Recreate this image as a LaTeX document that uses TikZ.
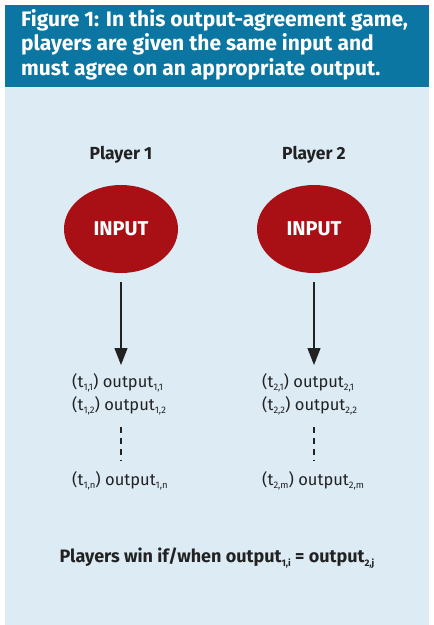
\documentclass[tikz,border=0pt]{standalone}
\usepackage{fontspec}
\setmainfont{Fira Sans}
\usetikzlibrary{positioning, arrows.meta, shapes.geometric}
\definecolor{headblue}{HTML}{0A76A1}
\definecolor{panelblue}{HTML}{DCEBF4}
\definecolor{inred}{HTML}{A81016}
\definecolor{txtdark}{HTML}{222222}
\tikzset{
every picture/.style={x=1pt, y=-1pt},
player/.style={font=\fontsize{17.5}{19}\selectfont\bfseries, text=txtdark},
input/.style={draw=none, fill=inred, ellipse, minimum width=114pt, minimum height=88pt, text=white, font=\fontsize{20}{22}\selectfont\bfseries},
outline/.style={font=\fontsize{16.5}{18}\selectfont, text=txtdark, anchor=west, inner sep=0pt},
flow/.style={-{Triangle[length=17pt, width=13pt]}, line width=1.3pt, draw=txtdark},
gap/.style={dash pattern=on 6pt off 5pt, line width=1.3pt, draw=txtdark},
}
\newcommand{\lowidx}[1]{\raisebox{-0.4ex}{\fontsize{9.5}{10}\selectfont #1}}

\begin{document}
\begin{tikzpicture}
            \useasboundingbox (0,0) rectangle (434,625);
            \fill[panelblue] (5,87) rectangle (429,625);
            \fill[headblue] (5,5) rectangle (429,87);
            \node[anchor=north west, inner sep=0pt, text=white, align=left, font=\fontsize{21}{24.5}\selectfont\bfseries] (title) at (21,9) {Figure 1: In this output-agreement game,\\players are given the same input and\\must agree on an appropriate output.};
            \node[player] (p1) at (121,155) {Player 1};
            \node[player] (p2) at (314,155) {Player 2};
            \node[input] (in1) at (121,229) {INPUT};
            \node[input] (in2) at (314,229) {INPUT};
            \node[outline] (o11) at (72,383) {(t\lowidx{1,1}) output\lowidx{1,1}};
            \node[outline] (o12) at (72,406) {(t\lowidx{1,2}) output\lowidx{1,2}};
            \node[outline] (o1n) at (72,481) {(t\lowidx{1,n}) output\lowidx{1,n}};
            \node[outline] (o21) at (262,383) {(t\lowidx{2,1}) output\lowidx{2,1}};
            \node[outline] (o22) at (262,406) {(t\lowidx{2,2}) output\lowidx{2,2}};
            \node[outline] (o2m) at (262,481) {(t\lowidx{2,m}) output\lowidx{2,m}};
            \coordinate (b1) at (121,365);
            \coordinate (b2) at (314,365);
            \coordinate (d1) at (121,427);
            \coordinate (e1) at (121,461);
            \coordinate (d2) at (314,427);
            \coordinate (e2) at (314,461);
            \draw[flow, shorten <=9pt] (in1.south)--(b1);
            \draw[flow, shorten <=9pt] (in2.south)--(b2);
            \draw[gap] (d1)--(e1);
            \draw[gap] (d2)--(e2);
            \node[font=\fontsize{18}{20}\selectfont\bfseries, text=txtdark] (win) at (217,558) {Players win if/when output\lowidx{1,i} = output\lowidx{2,j}};
        \end{tikzpicture}
\end{document}
